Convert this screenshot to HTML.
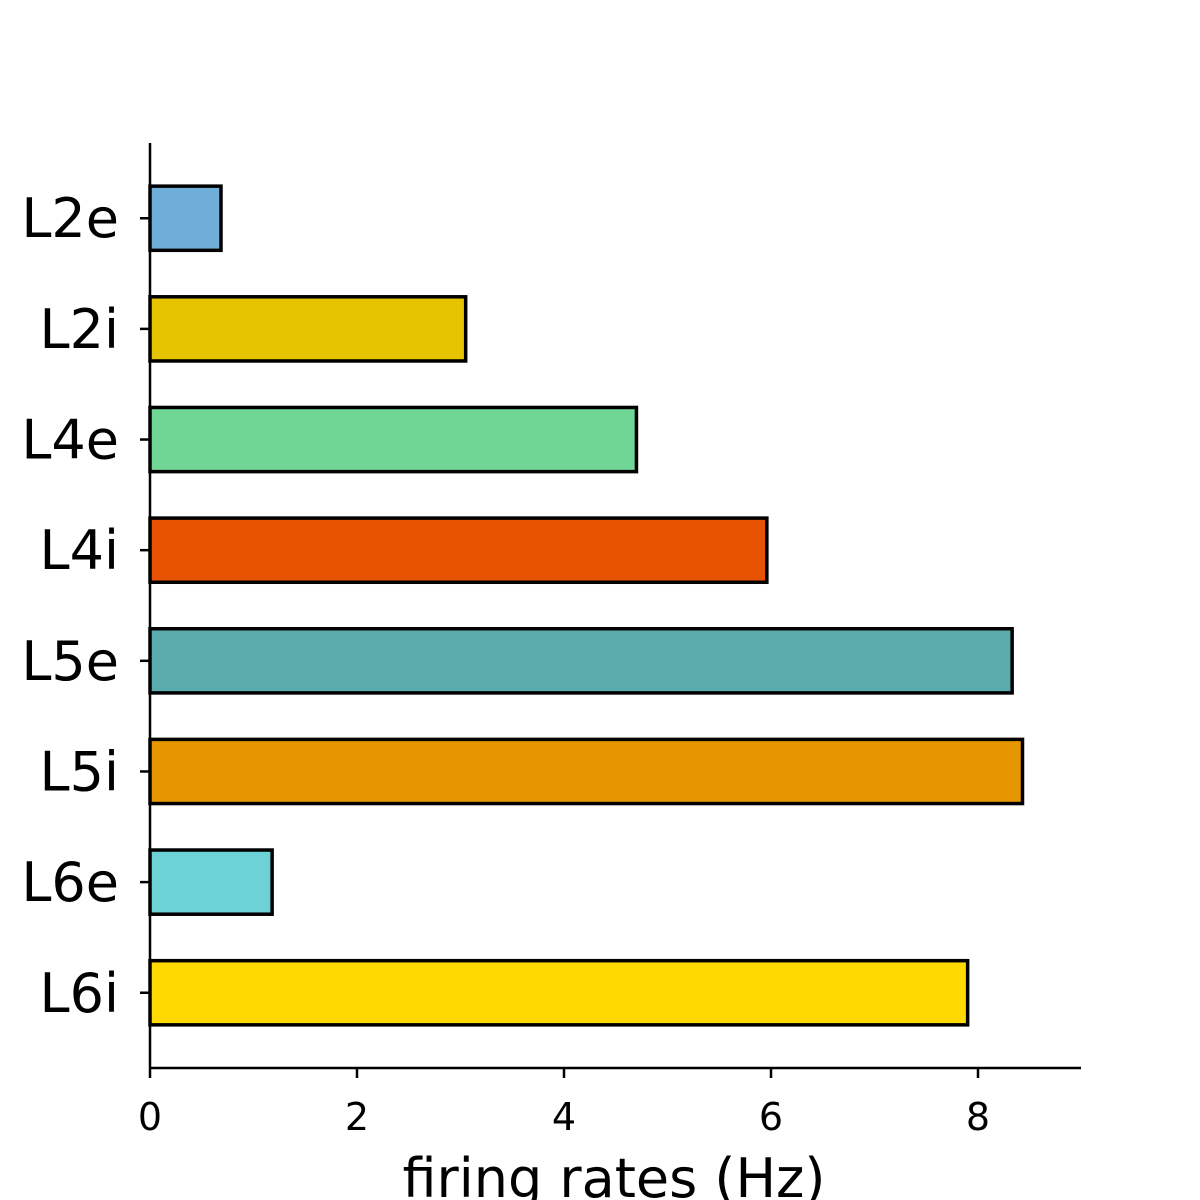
<!DOCTYPE html>
<html><head><meta charset="utf-8"><style>
body{margin:0;background:#fff;}
svg{display:block;font-family:"DejaVu Sans","Liberation Sans",sans-serif;}
</style></head><body>
<svg id="chart" width="1200" height="1200" viewBox="0 0 1200 1200"></svg>
<script>
const categories = ["L2e","L2i","L4e","L4i","L5e","L5i","L6e","L6i"];
const rates = [0.686,3.05,4.70,5.96,8.33,8.43,1.18,7.90];
const colors = ["#6eaed8","#e6c400","#6fd696","#e65200","#5aacad","#e69600","#6dd2d6","#ffd900"];
const xTicks = [0,2,4,6,8];

const svg = document.getElementById('chart');
const NS = 'http://www.w3.org/2000/svg';
const x0 = 150, xPerUnit = 103.5, yTop = 143, yBot = 1068;
const band = (yBot - yTop) / (categories.length - 1 + 0.68*2);
const xs = v => x0 + v * xPerUnit;
const yc = i => yTop + band*0.68 + i*band;
const barH = band*0.58;

function mk(tag, attrs, text){
  const e = document.createElementNS(NS, tag);
  for (const k in attrs) e.setAttribute(k, attrs[k]);
  if (text !== undefined) e.textContent = text;
  svg.appendChild(e);
  return e;
}

categories.forEach((c,i)=>{
  const b = mk('rect',{x:xs(0),y:yc(i)-barH/2,width:xs(rates[i])-xs(0),height:barH,fill:colors[i],stroke:'#000','stroke-width':3.5});
  
  
  const t = mk('line',{x1:x0-10,x2:x0,y1:yc(i),y2:yc(i),stroke:'#000','stroke-width':2.5});
  
  
  const l = mk('text',{x:x0-31,y:yc(i)+19,'text-anchor':'end','font-size':54,fill:'#000'},c);
  
  
});

xTicks.forEach(v=>{
  const t = mk('line',{x1:xs(v),x2:xs(v),y1:yBot,y2:yBot+10,stroke:'#000','stroke-width':2.5});
  
  
  const l = mk('text',{x:xs(v),y:yBot+62,'text-anchor':'middle','font-size':38,fill:'#000'},String(v));
  
  
});

const ya = mk('line',{x1:x0,x2:x0,y1:yTop,y2:yBot,stroke:'#000','stroke-width':2.5});


const xa = mk('line',{x1:x0,x2:1081,y1:yBot,y2:yBot,stroke:'#000','stroke-width':2.5});


const xt = mk('text',{x:614,y:1197,'text-anchor':'middle','font-size':54,fill:'#000'},'firing rates (Hz)');


</script>
</body></html>
